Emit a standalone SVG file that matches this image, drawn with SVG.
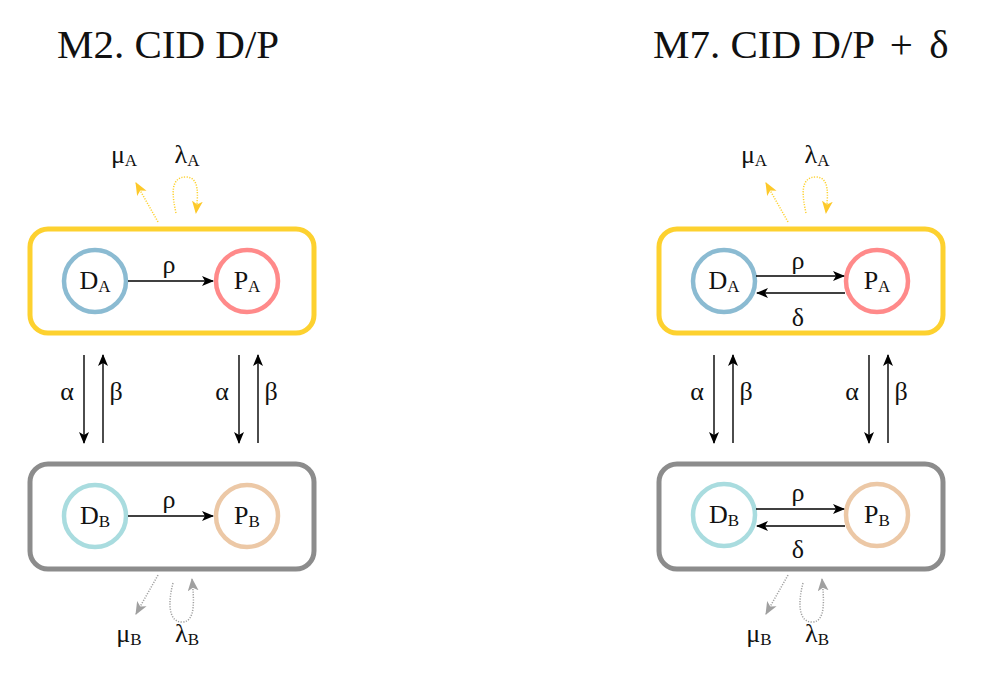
<svg xmlns="http://www.w3.org/2000/svg" width="988" height="685" viewBox="0 0 988 685">
  <defs>
    <marker id="head" viewBox="0 0 12 10" refX="11" refY="5" markerWidth="12" markerHeight="10" markerUnits="userSpaceOnUse" orient="auto">
      <path d="M0,0 L12,5 L0,10 L3,5 z" fill="#000"/>
    </marker>
    <marker id="headY" viewBox="0 0 12 10" refX="11" refY="5" markerWidth="13" markerHeight="11" markerUnits="userSpaceOnUse" orient="auto">
      <path d="M0,0 L12,5 L0,10 L3,5 z" fill="#fdc92a"/>
    </marker>
    <marker id="headG" viewBox="0 0 12 10" refX="11" refY="5" markerWidth="13" markerHeight="11" markerUnits="userSpaceOnUse" orient="auto">
      <path d="M0,0 L12,5 L0,10 L3,5 z" fill="#a0a0a0"/>
    </marker>
  </defs>
  <style>
    text { font-family: "Liberation Serif", "DejaVu Serif", serif; fill: #111; }
    .title { font-size: 41px; }
    .lbl { font-size: 26px; text-anchor: middle; }
    .sub { font-size: 17px; }
    .node { font-size: 26px; text-anchor: middle; }
    .boxA { fill: #fff; stroke: #fdd12f; stroke-width: 5; }
    .boxB { fill: #fff; stroke: #8c8c8c; stroke-width: 5; }
    .c { fill: #fff; stroke-width: 4.5; }
    .da { stroke: #8bbbd2; }
    .pa { stroke: #ff8a8a; }
    .db { stroke: #a9dcdf; }
    .pb { stroke: #ecc8a6; }
    .arr { stroke: #000; stroke-width: 1.4; fill: none; marker-end: url(#head); }
    .dotY { stroke: #fdd12f; stroke-width: 1.5; fill: none; stroke-dasharray: 1.2 1.4; marker-end: url(#headY); }
    .dotG { stroke: #a0a0a0; stroke-width: 1.5; fill: none; stroke-dasharray: 1.2 1.4; marker-end: url(#headG); }
  </style>
  <rect width="988" height="685" fill="#fff"/>

  <!-- Model M2 -->
  <text class="title" x="57" y="58">M2. CID D/P</text>
  <g id="m2-boxA"><rect class="boxA" x="30" y="229" width="284" height="104" rx="18"/></g>
  <g id="m2-boxB"><rect class="boxB" x="30" y="464" width="284" height="105" rx="18"/></g>
  <g id="m2-DA"><circle class="c da" cx="95" cy="281" r="31"/><text class="node" x="95" y="289">D<tspan class="sub" dy="3">A</tspan></text></g>
  <g id="m2-PA"><circle class="c pa" cx="247" cy="281" r="31"/><text class="node" x="247" y="289">P<tspan class="sub" dy="3">A</tspan></text></g>
  <g id="m2-DB"><circle class="c db" cx="95" cy="516" r="31"/><text class="node" x="95" y="524">D<tspan class="sub" dy="3">B</tspan></text></g>
  <g id="m2-PB"><circle class="c pb" cx="247" cy="516" r="31"/><text class="node" x="247" y="524">P<tspan class="sub" dy="3">B</tspan></text></g>
  <g id="m2-connectors">
    <line class="arr" x1="128" y1="281" x2="213" y2="281"/>
    <line class="arr" x1="128" y1="516" x2="213" y2="516"/>
    <line class="arr" x1="84" y1="355" x2="84" y2="443"/>
    <line class="arr" x1="103" y1="443" x2="103" y2="355"/>
    <line class="arr" x1="239" y1="355" x2="239" y2="443"/>
    <line class="arr" x1="258" y1="443" x2="258" y2="355"/>
    <line class="dotY" x1="158" y1="222" x2="136" y2="183"/>
    <path class="dotY" d="M176,213 C172,195 170,177 186,177 C200,177 198,196 196,213"/>
    <line class="dotG" x1="158" y1="575" x2="136" y2="614"/>
    <path class="dotG" d="M173,583 C168,602 168,622 182,622 C196,622 194,600 192,579"/>
  </g>
  <text class="lbl" x="169" y="273">ρ</text>
  <text class="lbl" x="169" y="508">ρ</text>
  <text class="lbl" x="67" y="400">α</text>
  <text class="lbl" x="116" y="400">β</text>
  <text class="lbl" x="222" y="400">α</text>
  <text class="lbl" x="271" y="400">β</text>
  <text class="lbl" x="124" y="163">μ<tspan class="sub" dy="3">A</tspan></text>
  <text class="lbl" x="187" y="163">λ<tspan class="sub" dy="3">A</tspan></text>
  <text class="lbl" x="129" y="642">μ<tspan class="sub" dy="3">B</tspan></text>
  <text class="lbl" x="187" y="642">λ<tspan class="sub" dy="3">B</tspan></text>

  <!-- Model M7 -->
  <text class="title" x="653" y="58">M7. CID D/P <tspan dx="6">+</tspan> <tspan dx="6">δ</tspan></text>
  <g id="m7-boxA"><rect class="boxA" x="659" y="229" width="284" height="104" rx="18"/></g>
  <g id="m7-boxB"><rect class="boxB" x="659" y="464" width="284" height="105" rx="18"/></g>
  <g id="m7-DA"><circle class="c da" cx="724" cy="281" r="31"/><text class="node" x="724" y="289">D<tspan class="sub" dy="3">A</tspan></text></g>
  <g id="m7-PA"><circle class="c pa" cx="877" cy="281" r="31"/><text class="node" x="877" y="289">P<tspan class="sub" dy="3">A</tspan></text></g>
  <g id="m7-DB"><circle class="c db" cx="724" cy="515" r="31"/><text class="node" x="724" y="523">D<tspan class="sub" dy="3">B</tspan></text></g>
  <g id="m7-PB"><circle class="c pb" cx="877" cy="515" r="31"/><text class="node" x="877" y="523">P<tspan class="sub" dy="3">B</tspan></text></g>
  <g id="m7-connectors">
    <line class="arr" x1="756" y1="276" x2="844" y2="276"/>
    <line class="arr" x1="845" y1="293" x2="757" y2="293"/>
    <line class="arr" x1="756" y1="509" x2="844" y2="509"/>
    <line class="arr" x1="845" y1="526" x2="757" y2="526"/>
    <line class="arr" x1="714" y1="355" x2="714" y2="443"/>
    <line class="arr" x1="733" y1="443" x2="733" y2="355"/>
    <line class="arr" x1="869" y1="355" x2="869" y2="443"/>
    <line class="arr" x1="888" y1="443" x2="888" y2="355"/>
    <line class="dotY" x1="788" y1="222" x2="766" y2="183"/>
    <path class="dotY" d="M806,213 C802,195 800,177 816,177 C830,177 828,196 826,213"/>
    <line class="dotG" x1="788" y1="575" x2="766" y2="614"/>
    <path class="dotG" d="M803,583 C798,602 798,622 812,622 C826,622 824,600 822,579"/>
  </g>
  <text class="lbl" x="798" y="269">ρ</text>
  <text class="lbl" x="798" y="326">δ</text>
  <text class="lbl" x="798" y="501">ρ</text>
  <text class="lbl" x="798" y="558">δ</text>
  <text class="lbl" x="697" y="400">α</text>
  <text class="lbl" x="746" y="400">β</text>
  <text class="lbl" x="852" y="400">α</text>
  <text class="lbl" x="901" y="400">β</text>
  <text class="lbl" x="754" y="163">μ<tspan class="sub" dy="3">A</tspan></text>
  <text class="lbl" x="817" y="163">λ<tspan class="sub" dy="3">A</tspan></text>
  <text class="lbl" x="759" y="642">μ<tspan class="sub" dy="3">B</tspan></text>
  <text class="lbl" x="817" y="642">λ<tspan class="sub" dy="3">B</tspan></text>
</svg>
